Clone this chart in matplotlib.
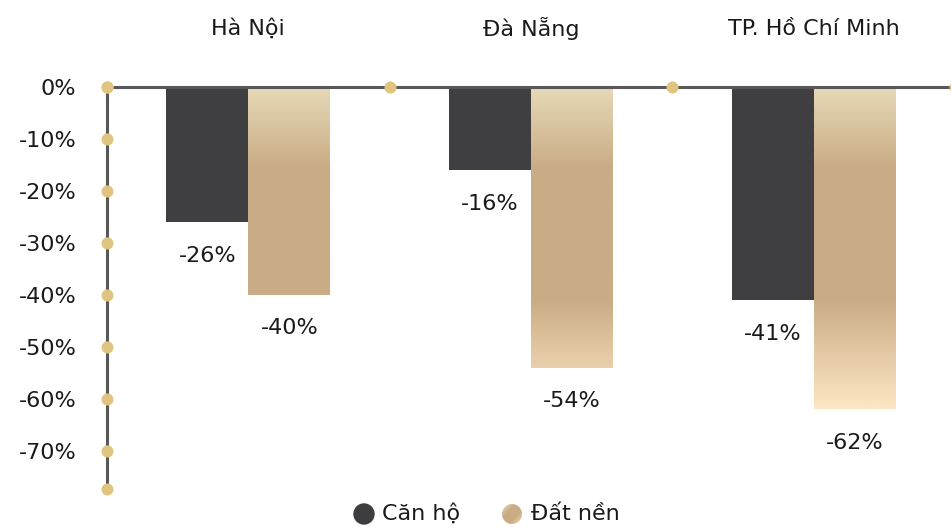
import numpy as np
import matplotlib
matplotlib.use("Agg")
import matplotlib.pyplot as plt
from matplotlib.colors import LinearSegmentedColormap
from matplotlib.patches import Circle

plt.rcParams['font.family'] = ['DejaVu Sans']

cities = ["Hà Nội", "Đà Nẵng", "TP. Hồ Chí Minh"]
can_ho = [-26, -16, -41]
dat_nen = [-40, -54, -62]
yticks = [0, -10, -20, -30, -40, -50, -60, -70]
series_names = ["Căn hộ", "Đất nền"]

dark = "#3f3e40"
gold_dot = "#e0c47f"
axis_gray = "#58585a"
txt = "#1a1a1a"
fs = 16
y_min = -77.3

# vertical gold gradient, fixed to data coordinates (0% at top, y_min at bottom)
gold_cmap = LinearSegmentedColormap.from_list(
    "gold", [(0.0, "#e6d9b7"), (0.2, "#c9ac85"), (0.53, "#c9ac85"),
             (0.80, "#fde6c4"), (1.0, "#fde6c4")])

fig = plt.figure(figsize=(9.51, 5.30), dpi=100)
ax = fig.add_axes([107 / 951, 1 - 489 / 530, 848 / 951, (489 - 87) / 530])
x = np.arange(len(cities))
w = 0.29

ax.bar(x - w / 2, can_ho, width=w, color=dark, zorder=2)
gold_bars = ax.bar(x + w / 2, dat_nen, width=w, color="none", zorder=2)

grad = np.linspace(0, 1, 400).reshape(-1, 1)
for bar in gold_bars:
    im = ax.imshow(grad, cmap=gold_cmap, aspect="auto", origin="upper",
                   extent=[-0.5, 2.5, y_min, 0], zorder=2, vmin=0, vmax=1)
    im.set_clip_path(bar)

ax.set_xlim(-0.5, 2.5)
ax.set_ylim(y_min, 0)

# axis lines with gold dots
ax.axhline(0, color=axis_gray, lw=2.2, zorder=3, clip_on=False)
ax.axvline(-0.5, color=axis_gray, lw=2.2, zorder=3, clip_on=False)
ax.scatter([-0.5, 0.5, 1.5, 2.5], [0, 0, 0, 0], s=75, color=gold_dot,
           zorder=4, clip_on=False, linewidths=0)
ax.scatter([-0.5] * (len(yticks) + 1), yticks + [y_min], s=75, color=gold_dot,
           zorder=4, clip_on=False, linewidths=0)

for s in ax.spines.values():
    s.set_visible(False)
ax.set_xticks([])
ax.set_yticks(yticks)
ax.set_yticklabels([f"{t}%" for t in yticks])
ax.tick_params(axis="y", length=0, pad=22, labelsize=fs, labelcolor=txt)

for i, name in enumerate(cities):
    ax.annotate(name, (i, 0), xytext=(0, 42), textcoords="offset points",
                ha="center", va="center", fontsize=fs, color=txt)

for i in range(len(cities)):
    for xv, v in ((x[i] - w / 2, can_ho[i]), (x[i] + w / 2, dat_nen[i])):
        ax.annotate(f"{v}%", (xv, v), xytext=(0, -24), textcoords="offset points",
                    ha="center", va="center", fontsize=fs, color=txt)

# legend drawn on a pixel-coordinate overlay
lg = fig.add_axes([0, 0, 1, 1], zorder=5)
lg.set_xlim(0, 951)
lg.set_ylim(530, 0)
lg.axis("off")
lg.add_patch(Circle((364, 514), 10, color="#3d3d3f"))
lg.text(382, 514, series_names[0], ha="left", va="center", fontsize=fs, color=txt)
leg_cmap = LinearSegmentedColormap.from_list(
    "leg", ["#f2dfb8", "#c9ac85", "#c9ac85", "#f0d8b0"])
yy, xx = np.mgrid[0:1:50j, 0:1:50j]
circ = Circle((512, 514), 10, transform=lg.transData)
lim = lg.imshow((xx + yy) / 2, cmap=leg_cmap, extent=[502, 522, 524, 504],
                aspect="auto", origin="upper")
lim.set_clip_path(circ)
lg.text(531, 514, series_names[1], ha="left", va="center", fontsize=fs, color=txt)

fig.savefig("out.png", dpi=100)
